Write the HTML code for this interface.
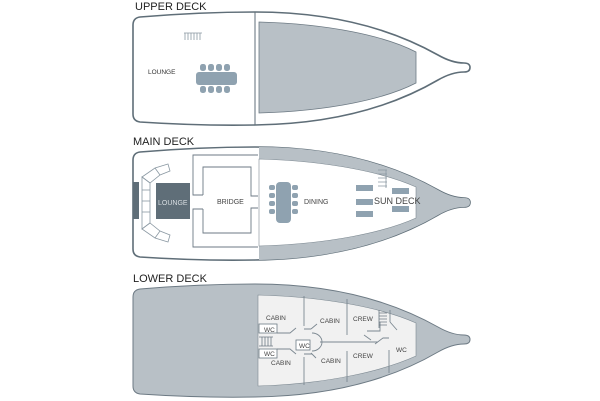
<!DOCTYPE html>
<html><head><meta charset="utf-8"><style>
html,body{margin:0;padding:0;background:#fff;width:600px;height:401px;overflow:hidden}
svg{display:block}
text{font-family:"Liberation Sans",sans-serif}
</style></head><body>
<svg width="600" height="401" viewBox="0 0 600 401" xmlns="http://www.w3.org/2000/svg">
<defs>
<path id="hull" d="M140,17 Q133,18 133,25 L133,114 Q133,121 140,122 Q200,126 255,125 C330,124 390,108 438,80 Q452,72 464,72 Q470,72 470,67.5 Q470,63 464,63 Q452,63 438,55 C390,28 330,12 255,12 Q200,12 140,17 Z"/>
</defs>
<!-- UPPER DECK -->
<text x="135" y="10" font-size="11" fill="#222">UPPER DECK</text>
<use href="#hull" fill="#fff" stroke="#5f6e78" stroke-width="1.6"/>
<line x1="255" y1="12" x2="255" y2="125" stroke="#5f6e78" stroke-width="1"/>
<path d="M259,22 C330,24 385,36 416,52 L416,83 C385,99 330,111 259,113 Z" fill="#b8c0c6" stroke="#6d7a84" stroke-width="0.8"/>
<text x="148" y="74" font-size="6.5" fill="#333">LOUNGE</text>
<g stroke="#8a98a2" stroke-width="0.8" fill="none"><path d="M184,33 H202 M185,33 V40 M188,33 V40 M191,33 V40 M194,33 V40 M197,33 V40 M200,33 V40"/></g>
<g fill="#8fa2b0">
<rect x="196" y="72" width="41" height="13" rx="3"/>
<rect x="200" y="64" width="6" height="7" rx="2.5"/><rect x="208" y="64" width="6" height="7" rx="2.5"/><rect x="216" y="64" width="6" height="7" rx="2.5"/><rect x="224" y="64" width="6" height="7" rx="2.5"/>
<rect x="200" y="86" width="6" height="7" rx="2.5"/><rect x="208" y="86" width="6" height="7" rx="2.5"/><rect x="216" y="86" width="6" height="7" rx="2.5"/><rect x="224" y="86" width="6" height="7" rx="2.5"/>
</g>

<!-- MAIN DECK -->
<text x="133" y="145" font-size="11" fill="#222">MAIN DECK</text>
<g transform="translate(0,135)">
<use href="#hull" fill="#fff" stroke="#5f6e78" stroke-width="1.6"/>
<path d="M259,12 C330,12 390,28 438,55 Q452,63 464,63 Q470,63 470,67.5 Q470,72 464,72 Q452,72 438,80 C390,108 330,124 259,125 Z" fill="#b8c0c6"/>
<path d="M259,24 C330,26 385,38 416,52 L416,83 C385,97 330,109 259,111 Z" fill="#fff" stroke="#7c8891" stroke-width="0.6"/>
</g>
<rect x="133" y="182" width="6" height="37" fill="#5f6e78"/>
<rect x="156" y="183" width="34" height="36" fill="#5f6e78"/>
<text x="158" y="205" font-size="7" fill="#d8dee2">LOUNGE</text>
<g fill="#fff" stroke="#8a98a2" stroke-width="0.8">
<path d="M142,177 L155,168 L168,164 L170,171 L160,175 L150,183 Z"/>
<path d="M142,177 L150,183 L150,223 L142,229 Z"/>
<path d="M142,229 L150,223 L160,231 L170,235 L168,242 L155,238 Z"/>
<line x1="142" y1="190" x2="150" y2="190"/><line x1="142" y1="201" x2="150" y2="201"/><line x1="142" y1="212" x2="150" y2="212"/>
<line x1="155" y1="168" x2="160" y2="175"/><line x1="155" y1="238" x2="160" y2="231"/>
</g>
<g stroke="#6d7a84" stroke-width="0.9" fill="none">
<path d="M203,195 H193 V155 H258"/>
<path d="M203,209 H193 V247 H258"/>
<path d="M203,195 V167 H251 V196 H258"/>
<path d="M203,209 V233 H251 V208 H258"/>
</g>
<text x="217" y="204" font-size="7" fill="#444">BRIDGE</text>
<g fill="#8fa2b0">
<rect x="276" y="182" width="15" height="41" rx="4"/>
<rect x="269" y="185" width="6" height="5" rx="2"/><rect x="269" y="193" width="6" height="5" rx="2"/><rect x="269" y="201" width="6" height="5" rx="2"/><rect x="269" y="209" width="6" height="5" rx="2"/>
<rect x="292" y="185" width="6" height="5" rx="2"/><rect x="292" y="193" width="6" height="5" rx="2"/><rect x="292" y="201" width="6" height="5" rx="2"/><rect x="292" y="209" width="6" height="5" rx="2"/>
<rect x="356" y="185" width="17" height="6"/><rect x="356" y="199" width="17" height="6"/><rect x="356" y="211" width="17" height="6"/>
<rect x="392" y="188" width="17" height="6"/><rect x="392" y="206" width="17" height="6"/>
</g>
<text x="304" y="204" font-size="7" fill="#444">DINING</text>
<text x="374" y="204" font-size="9" fill="#444">SUN DECK</text>
<g stroke="#8a98a2" stroke-width="0.8"><path d="M378,170 H387 M378,174 H387 M378,178 H387 M378,182 H387 M378,186 H387 M386,170 V188"/></g>

<!-- LOWER DECK -->
<text x="133" y="282" font-size="11" fill="#222">LOWER DECK</text>
<g transform="translate(0,272)">
<use href="#hull" fill="#b8c0c6" stroke="#6d7a84" stroke-width="1"/>
<path d="M258,23 C330,25 385,37 416,51 L416,84 C385,98 330,112 258,114 Z" fill="#f1f1f1" stroke="#7c8891" stroke-width="0.6"/>
</g>
<g stroke="#7c8891" stroke-width="0.9" fill="none">
<path d="M304,296 V326 M304,357 V385"/>
<path d="M347,299 V335 M347,351 V382"/>
<path d="M390,310 V322 M389,350 V373"/>
<path d="M304,329 H311 M304,354 H312"/>
<path d="M320,342 H378"/>
<path d="M312,333 A10,9 0 0 1 312,351"/>
<path d="M277,333 H290 L296,328 M277,349 H290 L296,354"/>
<path d="M311,329 L317,324 M311,353 L316,358"/>
<path d="M371,340 L364,335 M375,344 L383,338 H389"/>
<path d="M367,331 H380 V322 M390,322 L397,330"/>
</g>
<g fill="#fff" stroke="#6d7a84" stroke-width="0.8">
<rect x="259" y="324" width="18" height="9"/>
<rect x="259" y="349" width="18" height="9"/>
<rect x="296" y="340" width="14" height="10"/>
</g>
<g stroke="#6d7a84" stroke-width="0.8"><path d="M259,337 H273 M259,346 H273 M262,337 V346 M265,337 V346 M268,337 V346 M271,337 V346"/>
<path d="M379,316 H387 M379,319 H387 M379,322 H387 M379,325 H387 M379,313 H387 M379,310 V328"/></g>
<g font-size="6.5" fill="#444">
<text x="264" y="332">WC</text><text x="264" y="356">WC</text><text x="299" y="348">WC</text>
<text x="266" y="320">CABIN</text><text x="320" y="323">CABIN</text><text x="353" y="321">CREW</text>
<text x="271" y="365">CABIN</text><text x="321" y="363">CABIN</text><text x="353" y="358">CREW</text>
<text x="396" y="352">WC</text>
</g>
</svg>
</body></html>
